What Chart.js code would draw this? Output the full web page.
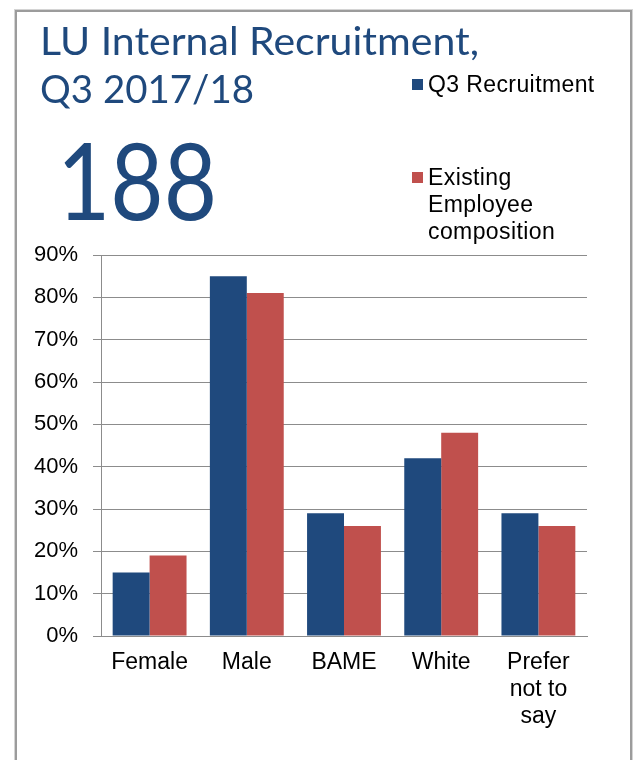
<!DOCTYPE html>
<html>
<head>
<meta charset="utf-8">
<script src="https://cdn.jsdelivr.net/npm/chart.js@4.4.0/dist/chart.umd.min.js"></script>
<style>
html, body { margin: 0; padding: 0; background: #fff; }
#wrap { position: relative; width: 635px; height: 760px; overflow: hidden; background: #fff; }
#frame { position: absolute; left: 15px; top: 10px; width: 617px; height: 820px; box-sizing: border-box;
  border: 2px solid #9c9c9c; box-shadow: 0 0 0 1px #d4d4d4; }
#c { position: absolute; left: 0; top: 0; }
.t { position: absolute; white-space: nowrap; transform-origin: 0 0; line-height: 1.2; }
.title { font-family: Lato, "Open Sans", sans-serif; color: #1F497D; }
.leg { font-family: "Liberation Sans", Arial, sans-serif; font-size: 23px; color: #000; letter-spacing: 0.4px; }
.box { position: absolute; width: 11px; height: 11px; }
</style>
</head>
<body>
<div id="wrap">
  <div id="frame"></div>
  <canvas id="c" width="635" height="760"></canvas>
  <div class="t title" id="t1" style="font-size:39px"><span class="txt">LU Internal Recruitment,</span><span class="mk"></span></div>
  <div class="t title" id="t2" style="font-size:39px"><span class="txt">Q3 2017/18</span><span class="mk"></span></div>
  <div class="t title" id="big" style="font-size:107px"><span class="txt">188</span><span class="mk"></span></div>
  <div class="box" style="left:412px;top:79px;background:#1F497D"></div>
  <div class="box" style="left:412px;top:172px;background:#C0504D"></div>
  <div class="t leg" id="l1"><span class="txt">Q3 Recruitment</span><span class="mk"></span></div>
  <div class="t leg" id="l2a"><span class="txt">Existing</span><span class="mk"></span></div>
  <div class="t leg" id="l2b"><span class="txt">Employee</span><span class="mk"></span></div>
  <div class="t leg" id="l2c"><span class="txt">composition</span><span class="mk"></span></div>
</div>
<script>
// ---- data ----
const categories = ['Female', 'Male', 'BAME', 'White', ['Prefer', 'not to', 'say']];
const q3Recruitment = [15, 85, 29, 42, 29];
const existingEmployeeComposition = [19, 81, 26, 48, 26];
const seriesNames = ['Q3 Recruitment', 'Existing Employee composition'];
const yTickMin = 0;
const yTickMax = 90;
const yTickStep = 10;

const wrap = document.getElementById('wrap');
document.querySelectorAll('.mk').forEach(m => {
  m.style.cssText = 'display:inline-block;width:0;height:0;vertical-align:baseline;';
});
function place(id, x, baseline, targetWidth) {
  const el = document.getElementById(id);
  const marker = el.querySelector('.mk');
  el.style.transform = 'none';
  el.style.left = x + 'px';
  el.style.top = '0px';
  const wt = wrap.getBoundingClientRect().top;
  const b = marker.getBoundingClientRect().bottom - wt;
  el.style.top = (baseline - b) + 'px';
  if (targetWidth) {
    const w = el.querySelector('.txt').getBoundingClientRect().width;
    el.style.transform = 'scaleX(' + (targetWidth / w) + ')';
  }
}
function layoutTexts() {
  place('t1', 40, 55, 439);
  place('t2', 40, 103, 214);
  place('big', 57, 220, 160);
  place('l1', 428, 91.5);
  place('l2a', 428, 185);
  place('l2b', 428, 212);
  place('l2c', 428, 238.5);
}
layoutTexts();
if (document.fonts && document.fonts.ready) document.fonts.ready.then(layoutTexts);

const gridColor = '#8c8c8c';
new Chart(document.getElementById('c'), {
  type: 'bar',
  data: {
    labels: categories,
    datasets: [
      { label: seriesNames[0], data: q3Recruitment, backgroundColor: '#1F497D',
        categoryPercentage: 0.76, barPercentage: 1.0 },
      { label: seriesNames[1], data: existingEmployeeComposition, backgroundColor: '#C0504D',
        categoryPercentage: 0.76, barPercentage: 1.0 }
    ]
  },
  options: {
    responsive: false,
    animation: false,
    devicePixelRatio: 1,
    layout: { padding: { top: 255, right: 48, bottom: 0, left: 0 } },
    plugins: { legend: { display: false }, tooltip: { enabled: false }, title: { display: false } },
    scales: {
      x: {
        grid: { display: false, drawTicks: false },
        border: { display: true, color: gridColor, width: 1 },
        ticks: {
          color: '#000',
          font: { family: '"Liberation Sans", Arial, sans-serif', size: 23, lineHeight: '27px' },
          padding: 13, maxRotation: 0, autoSkip: false
        },
        afterFit: s => { s.height = 124; }
      },
      y: {
        min: yTickMin, max: yTickMax,
        grid: { color: gridColor, lineWidth: 1, drawTicks: true, tickLength: 8, tickColor: gridColor },
        border: { display: true, color: gridColor, width: 1 },
        ticks: {
          stepSize: yTickStep,
          color: '#000',
          font: { family: '"Liberation Sans", Arial, sans-serif', size: 22 },
          padding: 15,
          callback: v => v + '%'
        },
        afterFit: s => { s.width = 101; }
      }
    }
  }
});
</script>
</body>
</html>
